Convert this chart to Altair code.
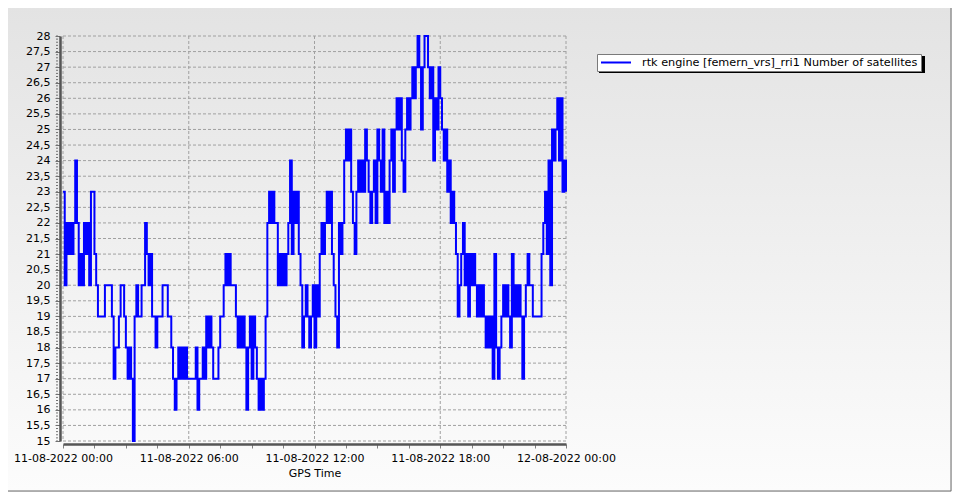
import altair as alt
import pandas as pd

SERIES = "rtk engine [femern_vrs]_rri1 Number of satellites"

# number of satellites, one reading every 5 minutes from 11-08-2022 00:00 to 12-08-2022 00:00
sats = [
    23, 20, 22, 21, 22, 21, 22, 24, 22, 20, 21, 20,   # 00h
    22, 21, 22, 20, 23, 23, 21, 20, 19, 19, 19, 19,   # 01h
    20, 20, 20, 20, 19, 17, 18, 18, 19, 20, 20, 19,   # 02h
    18, 17, 18, 17, 15, 19, 20, 19, 19, 20, 20, 22,   # 03h
    21, 20, 21, 19, 19, 18, 19, 19, 19, 20, 20, 20,   # 04h
    19, 19, 18, 17, 16, 17, 18, 17, 18, 17, 18, 17,   # 05h
    17, 17, 17, 17, 18, 16, 17, 17, 18, 17, 19, 18,   # 06h
    19, 18, 17, 17, 17, 18, 19, 19, 20, 21, 20, 21,   # 07h
    20, 20, 20, 19, 18, 19, 18, 19, 18, 16, 18, 19,   # 08h
    17, 19, 18, 17, 16, 17, 16, 17, 19, 22, 23, 22,   # 09h
    23, 22, 22, 20, 21, 20, 21, 20, 21, 22, 24, 21,   # 10h
    23, 22, 23, 21, 20, 18, 19, 20, 19, 18, 19, 20,   # 11h
    18, 20, 19, 21, 22, 21, 22, 23, 22, 23, 21, 20,   # 12h
    19, 18, 22, 21, 22, 24, 25, 24, 25, 23, 22, 21,   # 13h
    23, 24, 23, 24, 23, 25, 24, 23, 22, 23, 24, 22,   # 14h
    25, 24, 23, 25, 22, 23, 22, 24, 25, 23, 25, 26,   # 15h
    25, 26, 24, 23, 25, 26, 25, 26, 27, 26, 27, 28,   # 16h
    27, 25, 27, 28, 28, 27, 26, 27, 24, 26, 25, 27,   # 17h
    26, 25, 24, 25, 23, 24, 22, 23, 22, 21, 19, 20,   # 18h
    21, 22, 20, 21, 19, 21, 20, 21, 20, 19, 20, 19,   # 19h
    20, 19, 18, 19, 18, 19, 17, 21, 18, 17, 18, 19,   # 20h
    20, 19, 20, 19, 18, 21, 19, 20, 19, 20, 19, 17,   # 21h
    19, 20, 21, 20, 20, 19, 19, 19, 19, 19, 21, 22,   # 22h
    23, 21, 24, 20, 25, 24, 25, 26, 24, 26, 23, 24,   # 23h
    23,
]

y_ticks = [15 + 0.5 * i for i in range(27)]
y_minor = [round(15 + 0.1 * i, 1) for i in range(131)]
x_tick_hours = [1.5 * i for i in range(17)]
grid_hours = [0, 6, 12, 18, 24]

FONT = "DejaVu Sans"
W, H = 503, 405
PAD = {"left": 55, "top": 28, "right": 386, "bottom": 51}

times = pd.date_range("2022-08-11 00:00", periods=len(sats), freq="5min")
df = pd.DataFrame({"time": times, "sats": sats, "series": [SERIES] * len(sats)})


def dt(h):
    day = 11 + int(h // 24)
    hh = h % 24
    return alt.DateTime(year=2022, month=8, date=day, hours=int(hh), minutes=int(round((hh % 1) * 60)))


x_scale = alt.Scale(domain=[dt(0), dt(24)], nice=False)
y_scale = alt.Scale(domain=[15, 28], nice=False, zero=False)

x_axis = alt.Axis(
    values=[dt(h) for h in x_tick_hours],
    labelExpr="(hours(datum.value) % 6 == 0 && minutes(datum.value) == 0) ? timeFormat(datum.value, '%d-%m-%Y %H:%M') : ''",
    grid=False, offset=3, zindex=1,
    domainColor="#555555", domainWidth=2.5,
    tickColor="#808080", tickSize=4,
    labelFont=FONT, labelFontSize=11, labelColor="#000000", labelPadding=4,
    labelFlush=False, labelOverlap=False,
    title="GPS Time", titleFont=FONT, titleFontSize=11, titleFontWeight="normal",
    titleColor="#000000", titlePadding=4,
)
y_axis = alt.Axis(
    values=y_ticks,
    labelExpr="replace(toString(datum.value), '.', ',')",
    grid=False, offset=3, zindex=1,
    domainColor="#555555", domainWidth=2.5,
    tickColor="#707070", tickSize=5,
    labelFont=FONT, labelFontSize=11, labelColor="#000000", labelPadding=5,
    labelOverlap=False, title=None,
)

X = alt.X("time:T", scale=x_scale, axis=x_axis)
Y = alt.Y("sats:Q", scale=y_scale, axis=y_axis)

grad = alt.LinearGradient(
    gradient="linear",
    stops=[alt.GradientStop(color="#e3e3e3", offset=0), alt.GradientStop(color="#fcfcfc", offset=1)],
    x1=0, x2=0, y1=0, y2=1,
)

bg = alt.Chart(pd.DataFrame({"k": [0]})).mark_rect(fill=grad, stroke="#6a6a6a", strokeWidth=1).encode(
    x=alt.value(-PAD["left"] - 2), x2=alt.value(W + PAD["right"] - 1),
    y=alt.value(-PAD["top"] - 2), y2=alt.value(H + PAD["bottom"] - 1),
)

hgrid = alt.Chart(pd.DataFrame({"sats": y_ticks})).mark_rule(
    color="#a0a0a0", strokeWidth=1, strokeDash=[3, 2]
).encode(y=Y)

vgrid = alt.Chart(pd.DataFrame({"time": pd.to_datetime("2022-08-11") + pd.to_timedelta(grid_hours, unit="h")})).mark_rule(
    color="#a0a0a0", strokeWidth=1, strokeDash=[3, 2]
).encode(x=X)

minor = alt.Chart(pd.DataFrame({"sats": y_minor})).mark_rule(color="#707070", strokeWidth=1).encode(
    y=Y, x=alt.value(-7), x2=alt.value(-5)
)

# drop shadow behind the legend box (box: x 534..860, y 18..35 in plot coordinates)
shadow = alt.Chart(pd.DataFrame({"k": [0]})).mark_rect(fill="#000000").encode(
    x=alt.value(536), x2=alt.value(862), y=alt.value(20), y2=alt.value(37)
)

line = alt.Chart(df).mark_line(interpolate="step-after", strokeWidth=2).encode(
    x=X,
    y=Y,
    color=alt.Color(
        "series:N",
        scale=alt.Scale(range=["#0000ff"]),
        legend=alt.Legend(
            title=None, orient="none", legendX=534, legendY=18,
            fillColor="#ffffff", strokeColor="#7a7a7a", padding=3,
            symbolType="stroke", symbolSize=900, symbolStrokeWidth=2,
            clipHeight=11,
            labelFont=FONT, labelFontSize=11.25, labelColor="#000000",
            labelOffset=10, labelLimit=500,
        ),
    ),
)

chart = alt.layer(bg, hgrid, vgrid, minor, shadow, line).properties(
    width=W, height=H,
    autosize=alt.AutoSizeParams(type="none"),
    padding=PAD,
    background="#efefef",
).configure_view(stroke=None)

chart.save("out.html", embed_options={"renderer": "svg", "actions": False})
